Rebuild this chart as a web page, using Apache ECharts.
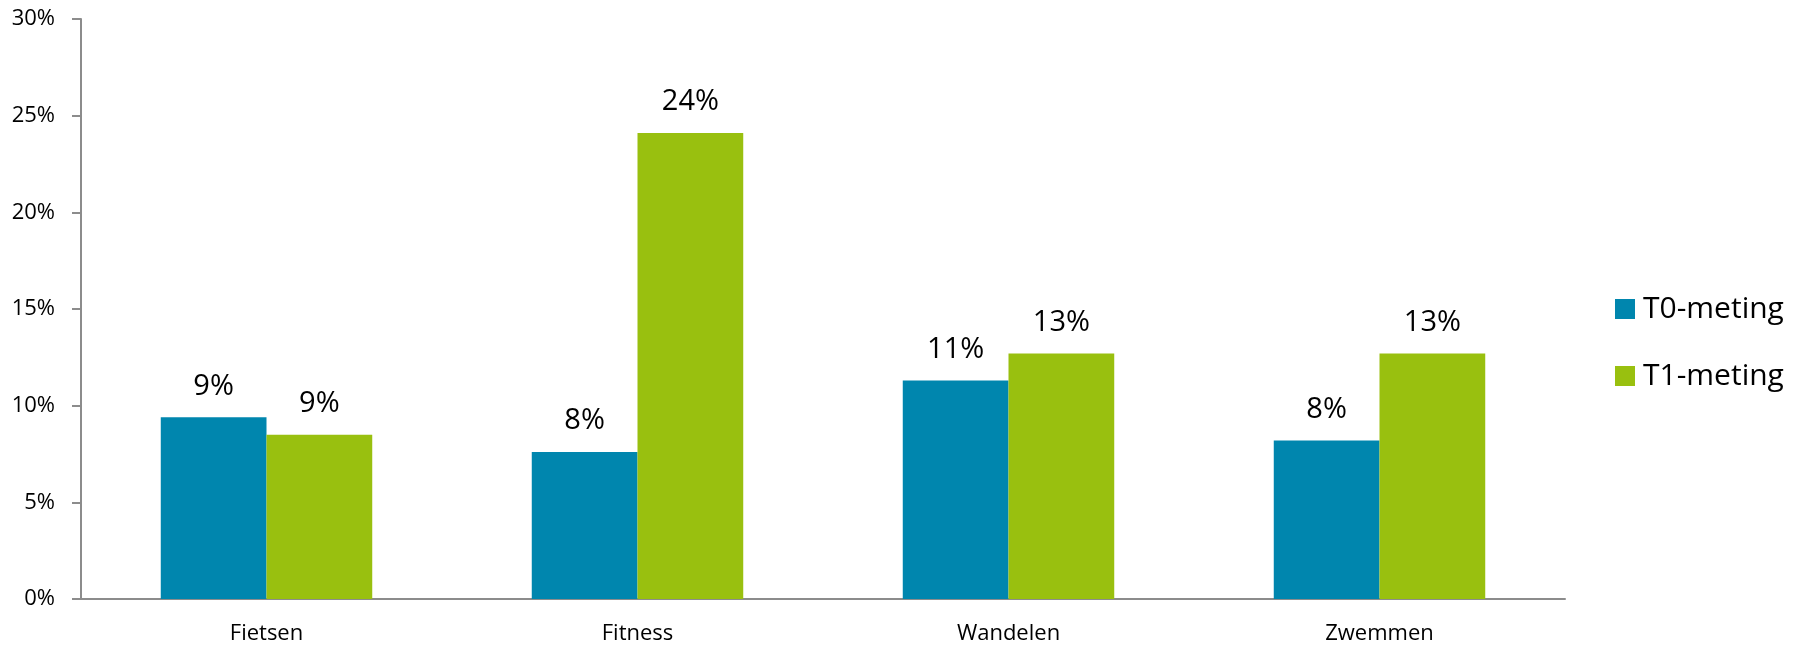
<!DOCTYPE html>
<html>
<head>
<meta charset="utf-8">
<script src="https://cdn.jsdelivr.net/npm/echarts@6/dist/echarts.min.js"></script>
<style>
html,body{margin:0;padding:0;background:#fff;}
#chart{width:1799px;height:646px;}
</style>
</head>
<body>
<div id="chart"></div>
<script>
const categories = ['Fietsen', 'Fitness', 'Wandelen', 'Zwemmen'];
const seriesNames = ['T0-meting', 'T1-meting'];
const t0Values = [9.4, 7.6, 11.3, 8.2];
const t1Values = [8.5, 24.1, 12.7, 12.7];
const yTicks = [0, 5, 10, 15, 20, 25, 30];

const FONT = '"Open Sans", sans-serif';
const chart = echarts.init(document.getElementById('chart'), null, {renderer: 'canvas'});

const labelCfg = {
  show: true,
  position: 'top',
  distance: 16,
  color: '#000',
  fontFamily: FONT,
  fontSize: 29,
  lineHeight: 30,
  formatter: p => Math.round(p.value) + '%'
};

chart.setOption({
  animation: false,
  backgroundColor: '#fff',
  grid: {left: 81, right: 234, top: 19, bottom: 47, containLabel: false},
  legend: {
    orient: 'vertical',
    left: 1610,
    top: 289,
    itemWidth: 20,
    itemHeight: 20,
    itemGap: 37,
    icon: 'rect',
    data: seriesNames,
    textStyle: {color: '#000', fontFamily: FONT, fontSize: 30, lineHeight: 20, padding: [0, 0, 0, 3]}
  },
  xAxis: {
    type: 'category',
    data: categories,
    axisLine: {lineStyle: {color: '#8c8c8c', width: 2}},
    axisTick: {show: false},
    axisLabel: {color: '#000', fontFamily: FONT, fontSize: 22, lineHeight: 22, margin: 24}
  },
  yAxis: {
    type: 'value',
    min: yTicks[0],
    max: yTicks[yTicks.length - 1],
    interval: 5,
    splitLine: {show: false},
    axisLine: {show: true, lineStyle: {color: '#8c8c8c', width: 2}},
    axisTick: {show: true, length: 9, lineStyle: {color: '#8c8c8c', width: 2}},
    axisLabel: {color: '#000', fontFamily: FONT, fontSize: 22, margin: 26, formatter: v => v + '%'}
  },
  series: [
    {name: seriesNames[0], type: 'bar', data: t0Values, barGap: '0%', barCategoryGap: '43%',
     itemStyle: {color: '#0086AE'}, label: labelCfg},
    {name: seriesNames[1], type: 'bar', data: t1Values, barGap: '0%', barCategoryGap: '43%',
     itemStyle: {color: '#99C00F'}, label: labelCfg}
  ]
});
</script>
</body>
</html>
